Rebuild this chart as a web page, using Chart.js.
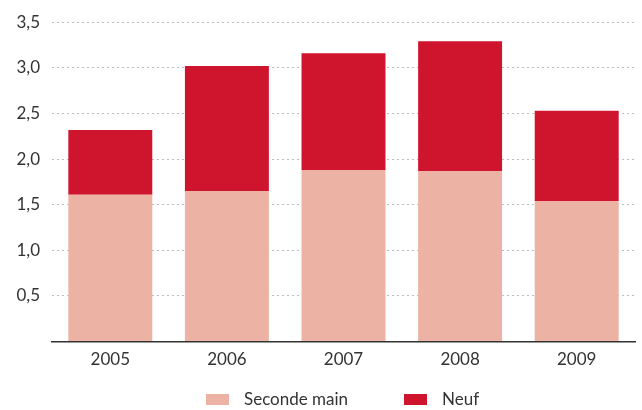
<!DOCTYPE html>
<html>
<head>
<meta charset="utf-8">
<script src="https://cdn.jsdelivr.net/npm/chart.js@4"></script>
<style>
  html, body { margin: 0; padding: 0; background: #fff; }
  #wrap { width: 642px; height: 410px; position: relative; }
  #legend { position: absolute; left: 0; top: 388px; width: 642px; height: 22px;
            font-family: Lato, 'Open Sans', sans-serif; font-size: 17px; color: #333; }
  .item { position: absolute; top: 0; line-height: 22px; white-space: nowrap; }
  .box { display: inline-block; width: 23px; height: 11px; vertical-align: middle; margin-right: 15px; position: relative; top: -1px; }
</style>
</head>
<body>
<div id="wrap">
  <canvas id="chart"></canvas>
  <div id="legend"></div>
</div>
<script>
const years = ["2005", "2006", "2007", "2008", "2009"];
const secondeMain = [1.61, 1.65, 1.88, 1.87, 1.54];
const neuf = [0.71, 1.37, 1.28, 1.42, 0.99];

const textColor = "#333";
Chart.defaults.font.family = "Lato, 'Open Sans', sans-serif";
Chart.defaults.font.size = 17;
Chart.defaults.color = textColor;

const chart = new Chart(document.getElementById("chart"), {
  type: "bar",
  data: {
    labels: years,
    datasets: [
      { label: "Seconde main", data: secondeMain, backgroundColor: "#ECB3A4", categoryPercentage: 0.72, barPercentage: 1 },
      { label: "Neuf", data: neuf, backgroundColor: "#CF152D", categoryPercentage: 0.72, barPercentage: 1 }
    ]
  },
  options: {
    responsive: true,
    maintainAspectRatio: false,
    animation: false,
    layout: { padding: { top: 7, right: 7, left: 0, bottom: 40 } },
    plugins: {
      tooltip: { enabled: false },
      legend: { display: false }
    },
    scales: {
      x: {
        stacked: true,
        grid: { display: false },
        border: { display: true, color: "#333", width: 1.5 },
        ticks: { padding: 0, font: { size: 17 } }
      },
      y: {
        stacked: true,
        min: 0,
        max: 3.5,
        afterFit: s => { s.width = 52; },
        grid: { color: "#bdbdbd", lineWidth: 1, drawTicks: false },
        border: { display: false, dash: [2, 3] },
        ticks: {
          stepSize: 0.5,
          padding: 12,
          font: { size: 17 },
          callback: v => v === 0 ? "" : v.toFixed(1).replace(".", ",")
        }
      }
    }
  }
});

// legend built from the datasets
const legend = document.getElementById("legend");
const legendX = [206, 404];
chart.data.datasets.forEach((ds, i) => {
  const item = document.createElement("div");
  item.className = "item";
  item.style.left = legendX[i] + "px";
  const box = document.createElement("span");
  box.className = "box";
  box.style.background = ds.backgroundColor;
  item.appendChild(box);
  item.appendChild(document.createTextNode(ds.label));
  legend.appendChild(item);
});
</script>
</body>
</html>
